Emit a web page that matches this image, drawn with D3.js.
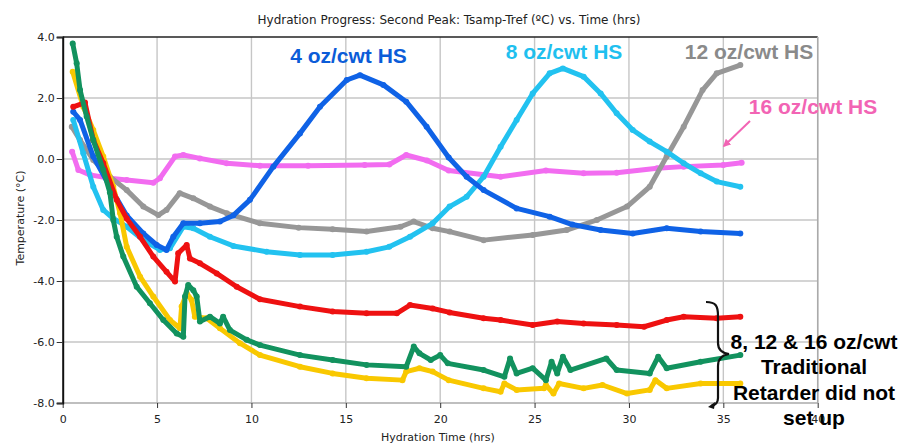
<!DOCTYPE html>
<html><head><meta charset="utf-8">
<script src="https://cdn.jsdelivr.net/npm/d3@7"></script>
<style>body{margin:0;background:#fff;} svg{display:block;}</style>
</head><body>
<svg id="c" width="904" height="444"></svg>
<script>
const xTicks = [0,5,10,15,20,25,30,35,40];
const yTicks = [4,2,0,-2,-4,-6,-8];

const hs4 = [[0.56,1.55],[0.92,1.28],[1.62,0.08],[2.5,-0.91],[3.39,-1.85],[4.27,-2.44],[4.98,-2.82],[5.5,-2.98],[5.86,-2.55],[6.39,-2.11],[7.27,-2.11],[8.33,-2.05],[9.04,-1.85],[9.92,-1.34],[11.16,-0.25],[12.57,0.84],[13.63,1.71],[15.05,2.59],[15.75,2.75],[16.99,2.43],[18.2,1.88],[19.28,1.06],[20.45,0.05],[21.4,-0.58],[22.3,-1.02],[24.05,-1.62],[25.8,-1.89],[27,-2.15],[28.5,-2.33],[30.2,-2.44],[32.0,-2.27],[33.8,-2.38],[35.9,-2.44]];
const hs8 = [[0.56,1.28],[1.09,0.19],[1.62,-0.91],[2.15,-1.67],[2.68,-1.95],[3.39,-2.22],[4.27,-2.66],[5.15,-2.98],[5.68,-2.93],[6.39,-2.22],[6.92,-2.27],[7.8,-2.55],[9.04,-2.85],[10.8,-3.04],[12.57,-3.15],[14.3,-3.15],[16.1,-3.04],[17.3,-2.88],[18.4,-2.55],[19.6,-2.11],[20.5,-1.56],[21.4,-1.24],[22.3,-0.58],[23.2,0.4],[24.05,1.28],[24.9,2.15],[25.8,2.81],[26.5,2.97],[27.6,2.7],[28.5,2.15],[29.35,1.5],[30.2,0.95],[31.1,0.57],[32.0,0.24],[32.9,-0.14],[33.8,-0.47],[34.65,-0.74],[35.9,-0.91]];
const hs12 = [[0.48,1.06],[0.92,0.62],[1.62,-0.03],[2.5,-0.58],[3.39,-1.02],[4.27,-1.56],[5.07,-1.84],[5.5,-1.67],[6.2,-1.12],[6.92,-1.29],[7.8,-1.56],[8.69,-1.78],[10.45,-2.11],[12.5,-2.25],[14.3,-2.3],[16.1,-2.38],[17.9,-2.22],[18.6,-2.05],[19.6,-2.27],[20.5,-2.38],[22.3,-2.66],[24.9,-2.49],[26.7,-2.33],[28.3,-2.0],[29.9,-1.56],[31.1,-0.91],[32.0,0.08],[32.9,1.06],[33.9,2.26],[34.65,2.81],[35.9,3.08]];
const hs16 = [[0.5,0.24],[0.83,-0.36],[1.45,-0.52],[2.5,-0.63],[3.39,-0.69],[4.8,-0.78],[5.15,-0.63],[5.95,0.08],[6.39,0.13],[7.27,0.02],[8.69,-0.14],[10.45,-0.22],[13,-0.22],[16,-0.2],[17.3,-0.18],[18.2,0.13],[19.3,-0.05],[20.45,-0.38],[23.2,-0.58],[25.6,-0.38],[27.6,-0.47],[29.35,-0.45],[31.5,-0.3],[32.9,-0.25],[35.0,-0.2],[35.97,-0.12]];
const trRed = [[0.56,1.71],[1.18,1.85],[1.62,0.62],[2.15,-0.14],[2.86,-1.34],[3.39,-1.95],[4.1,-2.55],[4.8,-3.2],[5.5,-3.7],[5.95,-4.02],[6.12,-3.09],[6.57,-2.82],[6.74,-3.26],[7.27,-3.42],[8.16,-3.75],[9.22,-4.19],[10.45,-4.6],[12.57,-4.84],[14.3,-5.0],[16.1,-5.06],[17.7,-5.06],[18.4,-4.79],[19.6,-4.9],[20.5,-5.03],[22.3,-5.22],[23.2,-5.28],[24.9,-5.44],[26.2,-5.33],[27.6,-5.39],[29.35,-5.44],[30.8,-5.5],[32.0,-5.28],[32.9,-5.17],[34.65,-5.22],[35.9,-5.17]];
const trGreen = [[0.53,3.79],[0.74,3.14],[0.92,2.26],[1.27,1.39],[1.62,0.62],[2.15,-0.36],[2.5,-1.1],[2.68,-2.0],[2.86,-2.55],[3.21,-3.2],[3.92,-4.19],[4.62,-4.73],[5.33,-5.28],[6.04,-5.72],[6.39,-5.83],[6.48,-4.51],[6.65,-4.13],[6.92,-4.3],[7.1,-4.51],[7.27,-5.33],[7.8,-5.17],[8.33,-5.39],[8.5,-5.17],[8.86,-5.61],[9.75,-5.93],[10.45,-6.1],[12.57,-6.43],[14.3,-6.59],[16.1,-6.75],[18.2,-6.81],[18.6,-6.15],[18.9,-6.37],[19.5,-6.59],[20.0,-6.43],[20.4,-6.7],[22.3,-6.92],[23.4,-7.14],[23.7,-6.54],[24.05,-7.03],[24.9,-6.86],[25.6,-7.25],[25.9,-6.65],[26.2,-7.03],[26.5,-6.48],[26.9,-6.92],[28.8,-6.54],[29.35,-6.92],[31.1,-7.03],[31.55,-6.48],[32.0,-6.86],[33.8,-6.65],[35.9,-6.43]];
const trYellow = [[0.53,2.86],[1.09,1.71],[1.62,0.95],[2.15,0.08],[2.68,-0.91],[3.04,-1.78],[3.39,-2.88],[4.1,-3.86],[4.8,-4.51],[5.68,-5.28],[6.21,-5.55],[6.3,-4.84],[6.57,-4.4],[6.83,-4.62],[7.0,-5.17],[7.63,-5.22],[8.33,-5.55],[9.39,-6.04],[10.45,-6.43],[12.57,-6.81],[14.3,-7.03],[16.1,-7.19],[18.0,-7.25],[18.2,-6.97],[18.9,-6.86],[19.6,-6.97],[20.45,-7.25],[22.3,-7.52],[23.2,-7.63],[23.4,-7.36],[24.05,-7.57],[25.5,-7.52],[25.6,-7.41],[26.0,-7.69],[26.3,-7.36],[27.6,-7.52],[28.6,-7.41],[29.9,-7.69],[31.1,-7.57],[31.4,-7.25],[32.0,-7.52],[33.8,-7.36],[35.9,-7.36]];

const seriesList = [
  {data: hs16, color: "#f26cf0"},
  {data: hs12, color: "#979797"},
  {data: hs8, color: "#22c2f0"},
  {data: hs4, color: "#0f62e6"},
  {data: trYellow, color: "#f9c800"},
  {data: trRed, color: "#ee1111"},
  {data: trGreen, color: "#12925e"}
];

const svg = d3.select("#c");
const L = 62.7, R = 817.7, T = 37, B = 403;
const x = d3.scaleLinear().domain([0,40]).range([L,R]);
const y = d3.scaleLinear().domain([-8,4]).range([B,T]);
const uiFont = "'DejaVu Sans', Verdana, sans-serif";
const boldFont = "'Liberation Sans', Arial, sans-serif";

// gridlines
svg.append("g").selectAll("line.vg").data(xTicks.slice(1)).join("line")
  .attr("x1", d=>x(d)).attr("x2", d=>x(d)).attr("y1", T).attr("y2", B)
  .attr("stroke", "#c6c6c6").attr("stroke-width", 1.4);
svg.append("g").selectAll("line.hg").data(yTicks.slice(1,-1)).join("line")
  .attr("x1", L).attr("x2", R).attr("y1", d=>y(d)).attr("y2", d=>y(d))
  .attr("stroke", "#c6c6c6").attr("stroke-width", 1.4);

// frame
svg.append("line").attr("x1",L).attr("x2",R).attr("y1",T).attr("y2",T).attr("stroke","#222").attr("stroke-width",1.5);
svg.append("line").attr("x1",R).attr("x2",R).attr("y1",T).attr("y2",B).attr("stroke","#aaa").attr("stroke-width",1.5);
svg.append("line").attr("x1",L).attr("x2",R).attr("y1",B).attr("y2",B).attr("stroke","#aaa").attr("stroke-width",1.5);

// axes
const xAxis = svg.append("g").attr("transform", `translate(0,${B})`)
  .call(d3.axisBottom(x).tickValues(xTicks).tickFormat(d=>String(d)).tickSize(5).tickPadding(7));
xAxis.select(".domain").remove();
xAxis.selectAll("line").attr("stroke","#333");
xAxis.selectAll("text").attr("font-family", uiFont).attr("font-size", 11).attr("fill","#222");

const yAxis = svg.append("g").attr("transform", `translate(${L},0)`)
  .call(d3.axisLeft(y).tickValues(yTicks).tickFormat(d=>d.toFixed(1)).tickSize(6).tickPadding(2));
yAxis.select(".domain").attr("stroke","#111").attr("stroke-width",2);
yAxis.selectAll("line").attr("stroke","#333");
yAxis.selectAll("text").attr("font-family", uiFont).attr("font-size", 11).attr("fill","#222");

// series
const line = d3.line().x(d=>x(d[0])).y(d=>y(d[1]));
seriesList.forEach(s => {
  const g = svg.append("g");
  g.append("path").datum(s.data).attr("d", line).attr("fill","none")
    .attr("stroke", s.color).attr("stroke-width", 5)
    .attr("stroke-linejoin","round").attr("stroke-linecap","round");
  g.selectAll("circle").data(s.data).join("circle")
    .attr("cx", d=>x(d[0])).attr("cy", d=>y(d[1])).attr("r", 3).attr("fill", s.color);
});

// titles
svg.append("text").attr("x", 449).attr("y", 24).attr("text-anchor","middle")
  .attr("font-family", uiFont).attr("font-size", 12).attr("fill","#222")
  .text("Hydration Progress: Second Peak: Tsamp-Tref (ºC) vs. Time (hrs)");
svg.append("text").attr("x", 438).attr("y", 441).attr("text-anchor","middle")
  .attr("font-family", uiFont).attr("font-size", 11).attr("fill","#222")
  .text("Hydration Time (hrs)");
svg.append("text").attr("transform","translate(24,218) rotate(-90)").attr("text-anchor","middle")
  .attr("font-family", uiFont).attr("font-size", 11).attr("fill","#222")
  .text("Temperature (°C)");

// annotations
const ann = [
  {t:"4 oz/cwt HS", x:348.5, y:63, c:"#0b5cd8"},
  {t:"8 oz/cwt HS", x:564, y:59, c:"#1fc0ef"},
  {t:"12 oz/cwt HS", x:749, y:59, c:"#8a8a8a"},
  {t:"16 oz/cwt HS", x:813, y:114, c:"#f264b4"}
];
ann.forEach(a => svg.append("text").attr("x",a.x).attr("y",a.y).attr("text-anchor","middle")
  .attr("font-family", boldFont).attr("font-weight","bold").attr("font-size",21).attr("fill",a.c).text(a.t));

// pink arrow
svg.append("defs").append("marker").attr("id","ah").attr("viewBox","0 0 10 10").attr("refX",8).attr("refY",5)
  .attr("markerWidth",4).attr("markerHeight",4).attr("orient","auto")
  .append("path").attr("d","M0,0 L10,5 L0,10 z").attr("fill","#f264b4");
svg.append("line").attr("x1",750).attr("y1",121).attr("x2",724).attr("y2",146)
  .attr("stroke","#f264b4").attr("stroke-width",2).attr("marker-end","url(#ah)");

// brace
svg.append("path")
  .attr("d","M706,302 C716,302 718,306 718,316 L718,343 C718,350 722,353 729,354 C722,355 718,358 718,366 L718,398 C718,402 716,405 711,406")
  .attr("fill","none").attr("stroke","#111").attr("stroke-width",2.2);
svg.append("path").attr("d","M708,407 L715,402 L714,409 z").attr("fill","#111");

const lines = ["8, 12 & 16 oz/cwt","Traditional","Retarder did not","set up"];
const lineY = [349, 374, 399.5, 424.5];
lines.forEach((t,i) => svg.append("text").attr("x",814).attr("y",lineY[i]).attr("text-anchor","middle")
  .attr("font-family", boldFont).attr("font-weight","bold").attr("font-size",21).attr("fill","#000").text(t));
</script>
</body></html>
